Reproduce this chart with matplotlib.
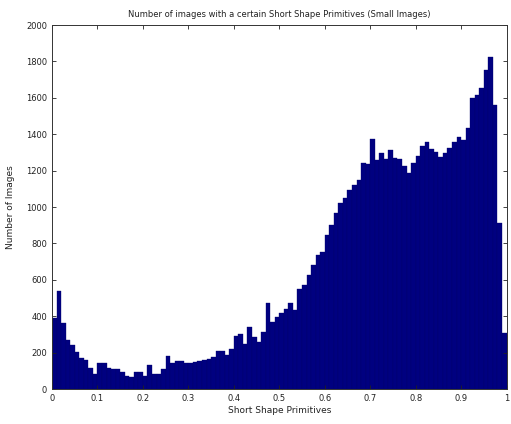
import numpy as np
import matplotlib
matplotlib.use("Agg")
import matplotlib.pyplot as plt

# Histogram counts, 100 equal bins over [0, 1]
counts = [
    392, 538, 361, 269, 242, 205, 168, 159, 114, 82,
    145, 145, 114, 108, 108, 95, 71, 67, 95, 95,
    71, 132, 80, 80, 110, 181, 141, 156, 156, 141,
    145, 150, 156, 160, 163, 174, 211, 211, 187, 220,
    290, 300, 247, 342, 287, 260, 315, 475, 370, 395,
    420, 440, 470, 435, 550, 570, 625, 680, 735, 755,
    845, 900, 965, 1020, 1050, 1093, 1121, 1149, 1240, 1236,
    1374, 1258, 1295, 1264, 1313, 1272, 1264, 1225, 1185, 1240,
    1280, 1333, 1355, 1320, 1304, 1277, 1299, 1322, 1359, 1387,
    1368, 1432, 1597, 1616, 1652, 1753, 1826, 1560, 910, 306,
]
x_range = (0.0, 1.0)
xticks = [0, 0.1, 0.2, 0.3, 0.4, 0.5, 0.6, 0.7, 0.8, 0.9, 1]
xticklabels = ["0", "0.1", "0.2", "0.3", "0.4", "0.5", "0.6", "0.7", "0.8", "0.9", "1"]
yticks = [0, 200, 400, 600, 800, 1000, 1200, 1400, 1600, 1800, 2000]

title = "Number of images with a certain Short Shape Primitives (Small Images)"
xlabel = "Short Shape Primitives"
ylabel = "Number of Images"

plt.rcParams["font.family"] = ["DejaVu Sans"]

fig = plt.figure(figsize=(5.11, 4.24), dpi=100)
ax = fig.add_axes([0.1018, 0.0825, 0.8895, 0.8585])

edges = np.linspace(x_range[0], x_range[1], len(counts) + 1)
widths = np.diff(edges)
ax.bar(edges[:-1], counts, width=widths, align="edge",
       color="#000080", edgecolor="#00006a", linewidth=0.25)

ax.set_xlim(0, 1)
ax.set_ylim(0, 2000)
ax.set_xticks(xticks)
ax.set_xticklabels(xticklabels)
ax.set_yticks(yticks)
ax.tick_params(direction="in", length=3, width=0.6, labelsize=6,
               top=True, right=True, colors="#222222")
for s in ax.spines.values():
    s.set_linewidth(0.7)
    s.set_color("#333333")

ax.set_title(title, fontsize=6, pad=6, color="#222222")
ax.set_xlabel(xlabel, fontsize=6.5, labelpad=2, color="#222222")
ax.set_ylabel(ylabel, fontsize=6.5, labelpad=8, color="#222222")

fig.savefig("out.png", dpi=100)
